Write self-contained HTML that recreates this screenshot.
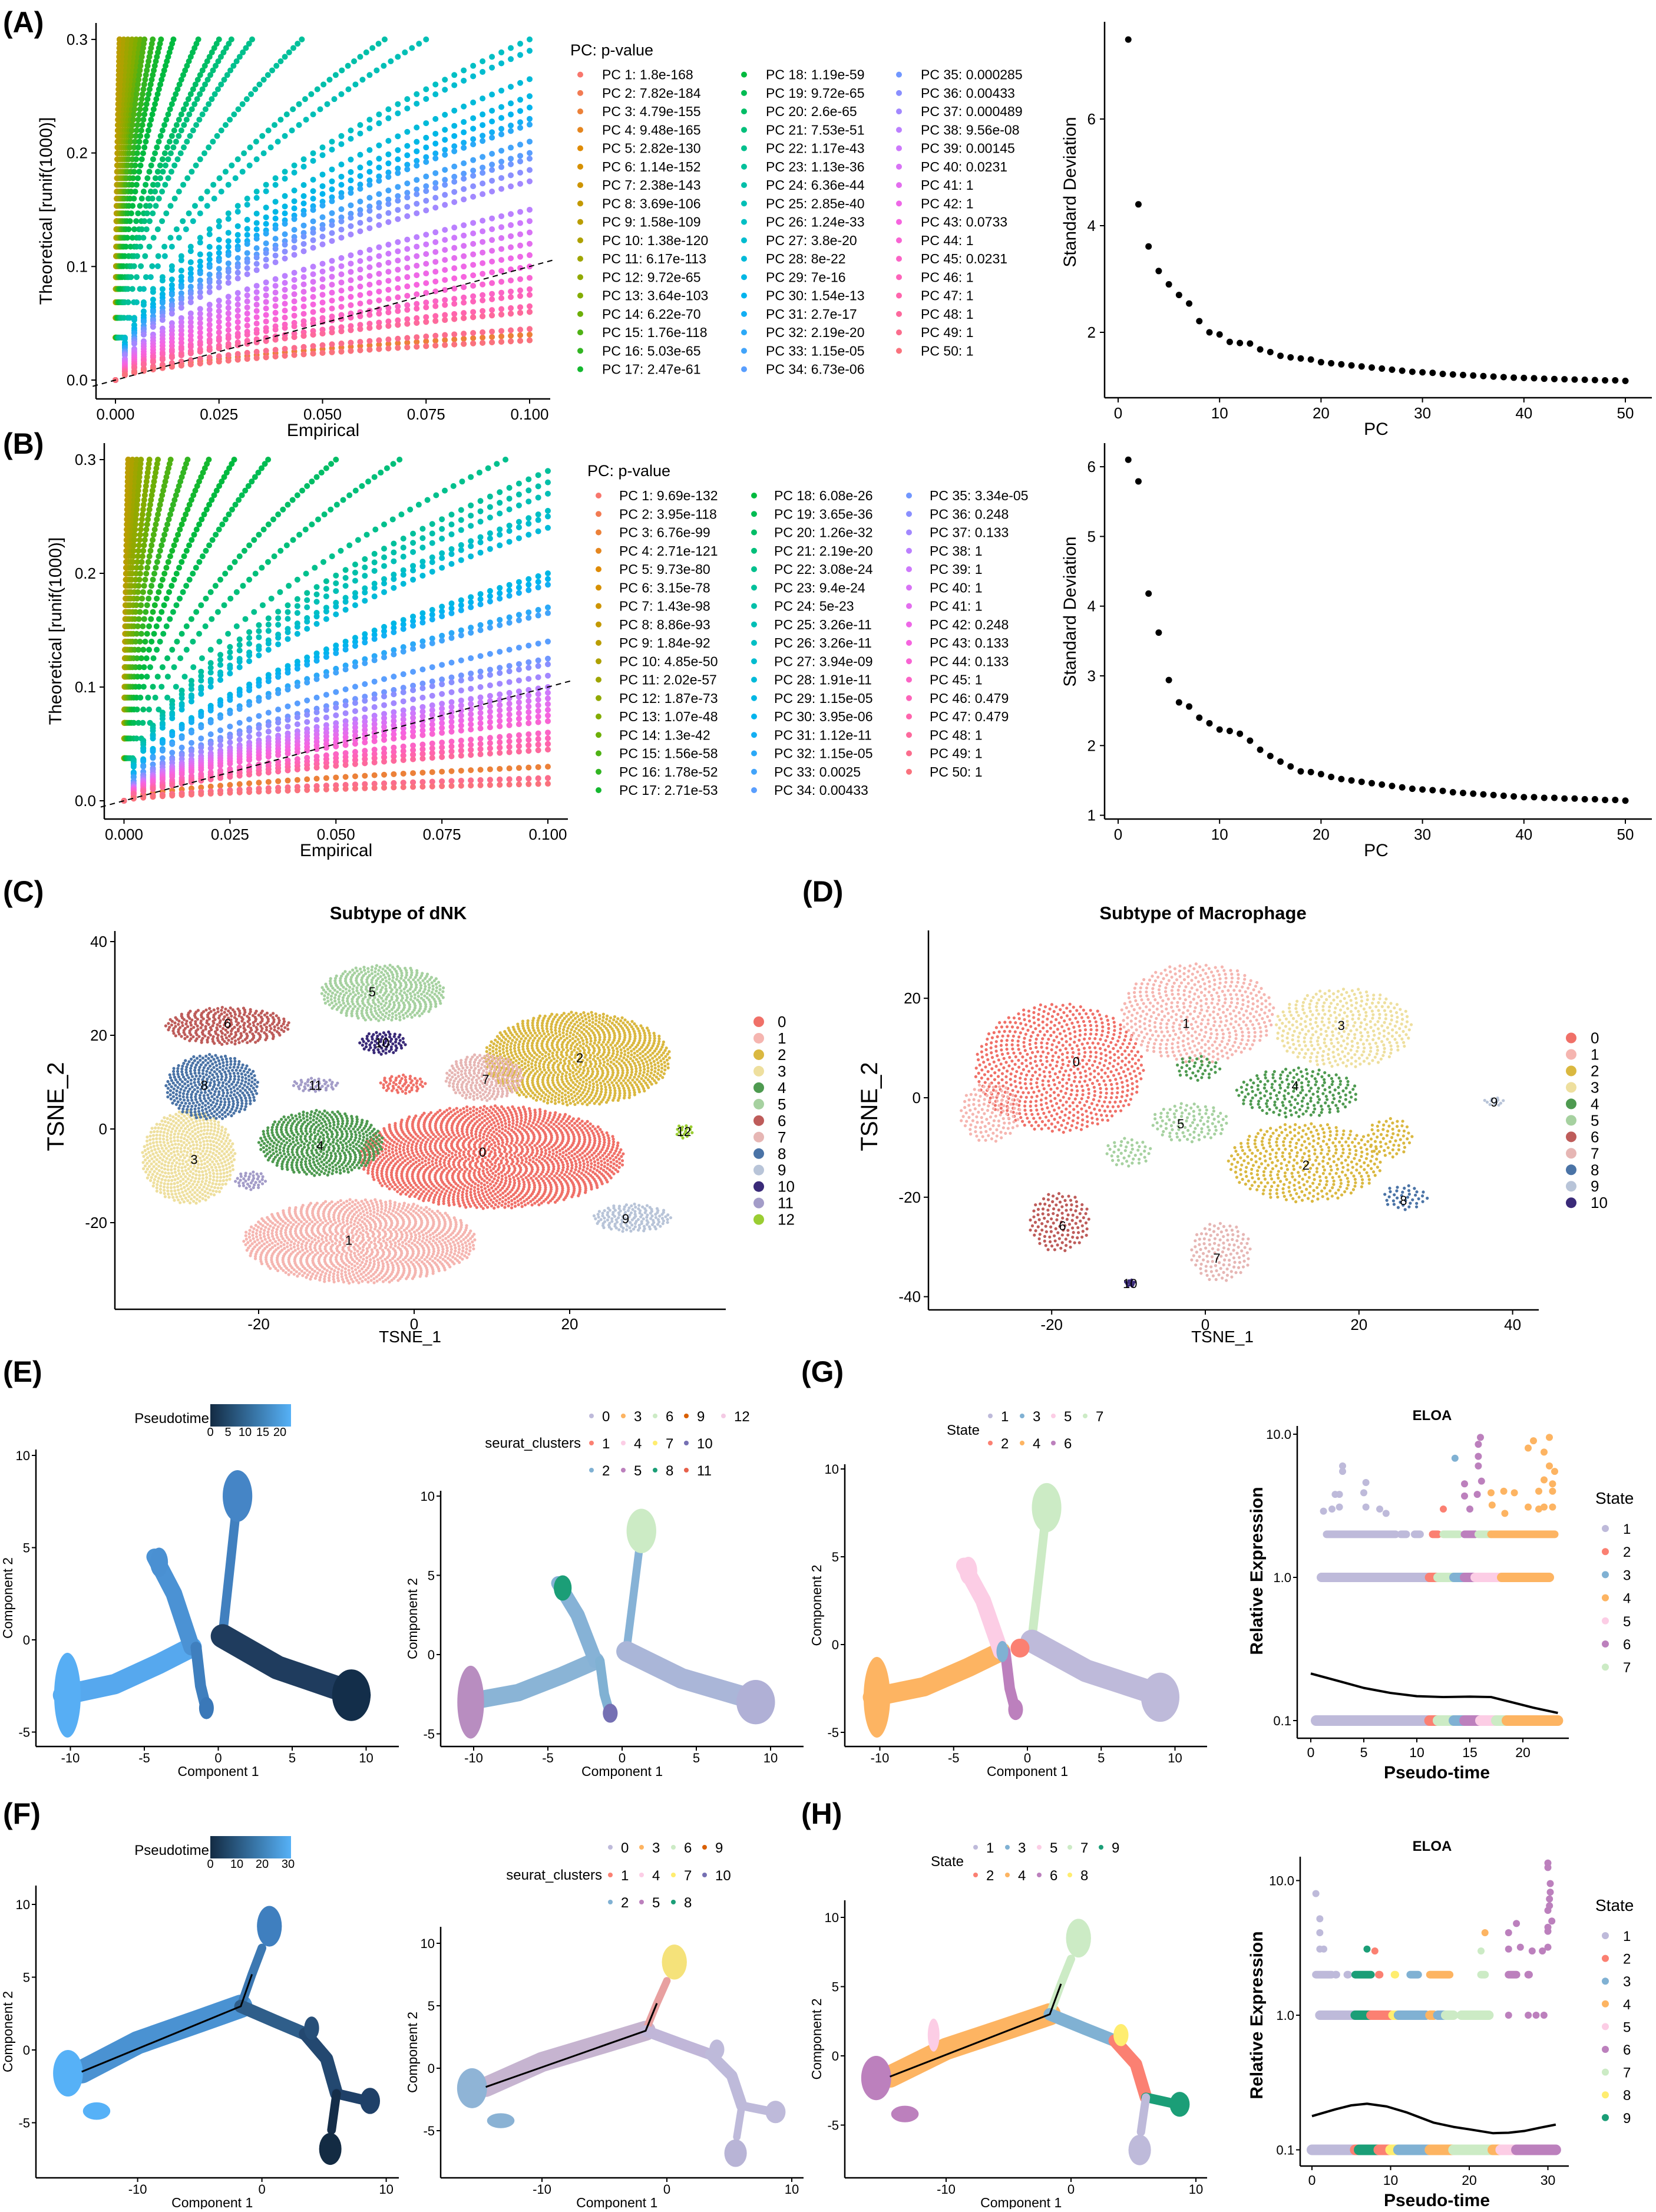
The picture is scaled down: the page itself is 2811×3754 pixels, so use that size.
<!DOCTYPE html>
<html><head><meta charset="utf-8"><style>
body{margin:0;background:#fff}
svg text{font-family:"Liberation Sans",Arial,sans-serif}
</style></head><body>
<svg id="fig" width="2811" height="3749" viewBox="0 0 2811 3749" xmlns="http://www.w3.org/2000/svg">
<defs><linearGradient id="ptg" x1="0" x2="1" y1="0" y2="0"><stop offset="0" stop-color="#132B43"/><stop offset="1" stop-color="#56B1F7"/></linearGradient></defs>
<rect x="0" y="0" width="2811" height="3749" fill="#fff"/>
</svg>
<script>
// ---------- DATA ----------
const pvalsA=['1.8e-168','7.82e-184','4.79e-155','9.48e-165','2.82e-130','1.14e-152','2.38e-143','3.69e-106','1.58e-109','1.38e-120','6.17e-113','9.72e-65','3.64e-103','6.22e-70','1.76e-118','5.03e-65','2.47e-61','1.19e-59','9.72e-65','2.6e-65','7.53e-51','1.17e-43','1.13e-36','6.36e-44','2.85e-40','1.24e-33','3.8e-20','8e-22','7e-16','1.54e-13','2.7e-17','2.19e-20','1.15e-05','6.73e-06','0.000285','0.00433','0.000489','9.56e-08','0.00145','0.0231','1','1','0.0733','1','0.0231','1','1','1','1','1'];
const pvalsB=['9.69e-132','3.95e-118','6.76e-99','2.71e-121','9.73e-80','3.15e-78','1.43e-98','8.86e-93','1.84e-92','4.85e-50','2.02e-57','1.87e-73','1.07e-48','1.3e-42','1.56e-58','1.78e-52','2.71e-53','6.08e-26','3.65e-36','1.26e-32','2.19e-20','3.08e-24','9.4e-24','5e-23','3.26e-11','3.26e-11','3.94e-09','1.91e-11','1.15e-05','3.95e-06','1.12e-11','1.15e-05','0.0025','0.00433','3.34e-05','0.248','0.133','1','1','1','1','0.248','0.133','0.133','1','0.479','0.479','1','1','1'];
const endEmpA=[0.1,0.1,0.1,0.001,0.001,0.001,0.001,0.001,0.001,0.002,0.003,0.004,0.005,0.006,0.007,0.009,0.011,0.014,0.02,0.025,0.028,0.033,0.045,0.065,0.075,0.1,0.1,0.1,0.1,0.1,0.1,0.1,0.1,0.1,0.1,0.1,0.1,0.1,0.1,0.1,0.1,0.1,0.1,0.1,0.1,0.1,0.1,0.1,0.1,0.1];
const endTheoA=[0.035,0.06,0.04,0.3,0.3,0.3,0.3,0.3,0.3,0.3,0.3,0.3,0.3,0.3,0.3,0.3,0.3,0.3,0.3,0.3,0.3,0.3,0.3,0.3,0.3,0.3,0.29,0.265,0.25,0.24,0.23,0.225,0.21,0.2,0.195,0.185,0.175,0.15,0.14,0.13,0.12,0.11,0.1,0.09,0.08,0.075,0.065,0.06,0.045,0.035];
const endEmpB=[0.1,0.1,0.1,0.001,0.001,0.001,0.001,0.001,0.001,0.002,0.003,0.004,0.006,0.008,0.011,0.015,0.02,0.026,0.034,0.05,0.065,0.09,0.1,0.1,0.1,0.1,0.1,0.1,0.1,0.1,0.1,0.1,0.1,0.1,0.1,0.1,0.1,0.1,0.1,0.1,0.1,0.1,0.1,0.1,0.1,0.1,0.1,0.1,0.1,0.1];
const endTheoB=[0.05,0.02,0.03,0.3,0.3,0.3,0.3,0.3,0.3,0.3,0.3,0.3,0.3,0.3,0.3,0.3,0.3,0.3,0.3,0.3,0.3,0.3,0.29,0.28,0.27,0.255,0.25,0.24,0.2,0.195,0.19,0.17,0.165,0.14,0.125,0.12,0.11,0.1,0.095,0.09,0.085,0.08,0.075,0.07,0.06,0.055,0.05,0.045,0.02,0.015];
const sdevA=[7.49,4.40,3.61,3.15,2.9,2.7,2.54,2.21,2.0,1.96,1.82,1.8,1.79,1.68,1.63,1.56,1.53,1.51,1.49,1.44,1.42,1.40,1.38,1.36,1.34,1.32,1.30,1.28,1.26,1.25,1.24,1.22,1.21,1.20,1.19,1.18,1.17,1.16,1.15,1.145,1.14,1.13,1.125,1.12,1.115,1.11,1.105,1.10,1.10,1.09];
const sdevB=[6.1,5.79,4.18,3.62,2.94,2.62,2.56,2.40,2.32,2.23,2.21,2.17,2.07,1.94,1.85,1.77,1.70,1.63,1.62,1.59,1.55,1.52,1.50,1.48,1.46,1.44,1.42,1.40,1.38,1.37,1.36,1.35,1.33,1.32,1.31,1.30,1.29,1.28,1.27,1.26,1.26,1.25,1.25,1.24,1.24,1.23,1.23,1.22,1.22,1.21];
// tSNE clusters [cx, cy, rx, ry, colorIndex]
const dnkClusters=[[10,-6,17,11,0],[-1.5,9.6,3,2,0],[-7,-24,15,9,1],[21,15,12,10,2],[-29,-6,6,10,3],[-12,-3,8,7,4],[-4,29,8,6,5],[-24,22,8,4,6],[9,11,5,5,7],[-26,9,6,7,8],[28,-19,5,3,9],[-4,18.4,3,2.5,10],[-12.7,9.4,3,1.5,11],[-21,-11,2,2,11],[34.7,-0.5,1.2,1.5,12]];
const dnkLabels=[[8.8,-4.9,'0'],[-8.4,-23.7,'1'],[21.3,15.2,'2'],[-28.3,-6.5,'3'],[-12.1,-3.5,'4'],[-5.4,29.3,'5'],[-24,22.6,'6'],[9.2,10.6,'7'],[-27,9.4,'8'],[27.2,-19.1,'9'],[-4.1,18.4,'10'],[-12.7,9.4,'11'],[34.7,-0.5,'12']];
const dnkColors=['#F07068','#F5B5B0','#DAB840','#EEDF9E','#4E9A50','#A6D1A0','#BE5C5A','#E6B6B4','#4A73A6','#B8C4D8','#3A2A78','#A39CC8','#9ACD32'];
const macClusters=[[-19,6,11,13,0],[-28,-3,4,6,1],[-1,17,10,10,1],[13,-13,10,8,2],[24,-8,3,4,2],[18,14,9,8,3],[12,1,8,5,4],[-1,6,3,2.5,4],[-2,-5,5,4,5],[-10,-11,3,3,5],[-19,-25,4,6,6],[2,-31,4,6,7],[26,-20,3,2.5,8],[37.6,-0.8,1.5,0.8,9],[-9.8,-37.3,0.7,0.7,10]];
const macLabels=[[-16.8,7.3,'0'],[-2.5,15,'1'],[13.1,-13.5,'2'],[17.7,14.6,'3'],[11.7,2.4,'4'],[-3.2,-5.2,'5'],[-18.6,-25.7,'6'],[1.5,-32.2,'7'],[25.8,-20.6,'8'],[37.6,-0.8,'9'],[-9.8,-37.3,'10']];
const macColors=['#F07068','#F5B5B0','#DAB840','#EEDF9E','#4E9A50','#A6D1A0','#BE5C5A','#E6B6B4','#4A73A6','#B8C4D8','#3A2A78'];
// trajectory branches (data coords): [points, width]
const trajE=[[[[-10.5,-3],[-7,-2.4],[-4,-1.3],[-1.8,-0.4]],1.1],[[[-1.8,-0.4],[-3,2.5],[-4.3,4.5]],0.9],[[[0.3,0.3],[0.8,4],[1.2,7]],0.5],[[[0.3,0.2],[4,-1.5],[8,-2.6],[9.5,-3]],1.3],[[[-1.5,-0.4],[-1.2,-2.5],[-0.8,-3.8]],0.6]];
const blobsE=[[-10.2,-3,0.9,2.3],[1.3,7.8,1.0,1.4],[9,-3,1.3,1.4],[-0.8,-3.7,0.5,0.6],[-4,4.2,0.6,0.8]];
const trajF=[[[[-14.5,-1.5],[-10,0.5],[-5,2],[-1.7,3]],1.6],[[[-1.7,3],[-0.8,5.2],[0,7]],0.6],[[[-1.7,3],[1,2],[3.5,1.1]],0.9],[[[3.5,1.1],[5.2,-0.6],[6,-3]],0.9],[[[6,-3],[8.5,-3.5]],0.7],[[[6,-3],[5.6,-5.5]],0.6]];
const blobsF=[[-15.6,-1.6,1.2,1.6],[-13.3,-4.2,1.1,0.6],[0.6,8.5,1,1.4],[4,1.5,0.6,0.8],[8.7,-3.5,0.8,0.9],[5.5,-6.8,0.9,1.1]];
const pathF=[[-14.5,-1.5],[-1.7,3],[-0.8,5.2]];
// ELOA expression bands: [t0, t1, state]
const g01=[[0.5,11.2,1],[11.2,12,2],[12,13.5,7],[13.5,14.5,3],[14.5,16,6],[16,17.5,5],[17.5,18.5,7],[18.5,23.3,4]];
const g10=[[1,11.2,1],[11.2,12,2],[12,13.5,7],[13.5,14.5,3],[14.5,15.5,6],[15.5,18,5],[18,22.5,4]];
const g20=[[1.5,8,1],[8.5,9,1],[9.8,10.3,1],[11.5,12,2],[12.5,14,7],[14.5,15.5,6],[15.8,17,7],[17,23,4]];
const gPts=[[3,6,1],[3,5.5,1],[5.2,4.6,1],[2.3,3.8,1],[2.7,3.8,1],[5,3.9,1],[1.2,2.9,1],[2,3,1],[2.7,3.1,1],[5.2,3.1,1],[6.5,3,1],[7.1,2.8,1],[13.6,6.8,3],[15.8,8.5,6],[16,9.5,6],[15.8,7,6],[15.8,6,6],[16.1,4.7,6],[14.5,4.5,6],[15.7,3.8,6],[14.5,3.7,6],[15,3,6],[12.5,3,2],[17,3.9,4],[18.2,4,4],[19.2,3.9,4],[21,9,4],[22.5,9.5,4],[20.5,8,4],[22,7.5,4],[22.5,6,4],[23,5.5,4],[22,4.8,4],[22.8,4.5,4],[21.5,4,4],[22.8,4,4],[20.5,3.1,4],[21.5,3,4],[22,3.1,4],[22.8,3.1,4],[17.1,3.2,4],[18.3,2.8,4]];
const gCurve=[[0,0.213],[2.5,0.19],[5,0.169],[7.5,0.156],[10,0.148],[12.5,0.146],[15,0.147],[17,0.146],[19,0.134],[21,0.123],[23.3,0.113]];
const h01=[[0,5.5,1],[5.5,6,2],[6,8.5,9],[8.5,10,2],[10,11,8],[11,15,3],[15,18,4],[18,19,7],[19,23,7],[23,24,4],[24,26,5],[26,31,6]];
const h10=[[1,5.5,1],[5.5,7.5,9],[7.5,10,2],[10.3,11,8],[11,14.5,3],[15,15.5,4],[16,17,3],[17,18,7],[19,22.5,7]];
const h20=[[0.5,2.5,1],[3,3.1,1],[4.5,4.6,1],[5.5,7.5,9],[8.5,8.6,2],[10.5,10.6,8],[12.5,13.5,3],[15,17.5,4],[21.5,22,7],[25,26,6],[27.5,27.6,6]];
const hPts=[[0.5,8,1],[1,5.2,1],[1,4.1,1],[1,3.1,1],[1.5,3.1,1],[7,3.1,9],[8,3.0,2],[21.5,3.0,7],[22,4.1,4],[25,4.1,6],[26,4.8,6],[25,3.1,6],[26.5,3.2,6],[28,3.0,6],[29.3,3.0,6],[30,3.2,6],[30,4.2,6],[30,4.5,6],[30.5,5,6],[30,6,6],[30.2,6.5,6],[30.2,7.3,6],[30.3,8.2,6],[30.3,9.5,6],[30,12.5,6],[30,13.5,6],[25,1,6],[27.5,1,6],[28.5,1,6],[29.5,1,6]];
const hCurve=[[0,0.178],[3,0.2],[5,0.214],[7,0.22],[9.5,0.21],[12,0.19],[15.5,0.159],[18,0.148],[20,0.142],[23,0.133],[25,0.134],[27,0.138],[29,0.146],[31,0.154]];
const stateCol=['','#BEBADA','#FB8072','#80B1D3','#FDB462','#FCCDE5','#BC80BD','#CCEBC5','#FFED6F','#1B9E77'];
const seuratCol=['#BEBADA','#FB8072','#80B1D3','#FDB462','#FCCDE5','#BC80BD','#CCEBC5','#FFED6F','#1B9E77','#D95F02','#7570B3','#E7604A','#F4CAE4'];

// ---------- HELPERS ----------
const NS='http://www.w3.org/2000/svg';
const svg=document.getElementById('fig');
function mk(tag,attrs,name,parent){
  const e=document.createElementNS(NS,tag);
  for(const k in attrs)e.setAttribute(k,attrs[k]);
  
  
  (parent||svg).appendChild(e);return e;}
function txt(x,y,s,size,name,o){o=o||{};
  const e=mk('text',{x:x,y:y,'font-size':size,'text-anchor':o.a||'start','font-weight':o.w||'normal',fill:o.f||'#000'},name);
  if(o.r)e.setAttribute('transform','rotate(-90 '+x+' '+y+')');
  e.textContent=s;return e;}
function line(x1,y1,x2,y2,name,w,col,dash){const a={x1:x1,y1:y1,x2:x2,y2:y2,stroke:col||'#000','stroke-width':w||2};if(dash)a['stroke-dasharray']=dash;return mk('line',a,name);}
const HUE12=['#F8766D','#DE8C00','#B79F00','#7CAE00','#00BA38','#00C08B','#00BFC4','#00B4F0','#619CFF','#C77CFF','#F564E3','#FF64B0'];
function hx(c){return [1,3,5].map(i=>parseInt(c.substr(i,2),16));}
function hue(i,n){const t=i/n*12,a=Math.floor(t)%12,b=(a+1)%12,f=t-Math.floor(t);const A=hx(HUE12[a]),B=hx(HUE12[b]);return 'rgb('+A.map((v,k)=>Math.round(v+(B[k]-v)*f)).join(',')+')';}
function axesL(c,name){line(c.L,c.T,c.L,c.B,name+'-y-axis',2.5);line(c.L,c.B,c.R,c.B,name+'-x-axis',2.5);}

// ---------- PANEL LABELS ----------
[['(A)',5,55],['(B)',5,770],['(C)',5,1530],['(D)',1362,1530],['(E)',5,2345],['(G)',1360,2345],['(F)',5,3095],['(H)',1360,3095]].forEach(p=>{
  txt(p[1],p[2],p[0],50,'panel-label',{w:'bold'});});

// ---------- JACKSTRAW ----------
function jack(c,eEmp,eTheo,pv,lg,tag){
  const X=v=>c.x0+v*c.xs, Y=v=>c.y0-v*c.ys;
  for(let i=0;i<50;i++){
    const col=hue(i,50);
    for(let k=0;k<=44;k++){const t=k/44;
      mk('circle',{cx:X(eEmp[i]*t),cy:Y(eTheo[i]*Math.pow(t,0.55)),r:5,fill:col},tag+'-pc-point');}
  }
  line(X(-0.0055),Y(-0.0055),X(0.1055),Y(0.1055),tag+'-diagonal',2,'#000','9,7');
  axesL(c,tag);
  [0,0.1,0.2,0.3].forEach(v=>{line(c.L-8,Y(v),c.L,Y(v),tag+'-y-tick',2);txt(c.L-14,Y(v)+9,v.toFixed(1),26,tag+'-y-tick-label',{a:'end'});});
  [0,0.025,0.05,0.075,0.1].forEach(v=>{line(X(v),c.B,X(v),c.B+8,tag+'-x-tick',2);txt(X(v),c.B+35,v.toFixed(3),26,tag+'-x-tick-label',{a:'middle'});});
  txt((c.L+c.R)/2,c.B+63,'Empirical',30,tag+'-x-axis-title',{a:'middle'});
  txt(c.tx,(c.T+c.B)/2,'Theoretical [runif(1000)]',30,tag+'-y-axis-title',{a:'middle',r:1});
  txt(lg.hx,lg.hy,'PC: p-value',27,tag+'-legend-title');
  for(let i=0;i<50;i++){const col=i<17?0:(i<34?1:2),row=i%17;
    const y=lg.y0+row*lg.dy;
    mk('circle',{cx:lg.dx[col],cy:y,r:5,fill:hue(i,50)},tag+'-legend-key');
    txt(lg.tx[col],y+8,'PC '+(i+1)+': '+pv[i],23,tag+'-legend-entry');}
}
jack({x0:196,xs:7030,y0:645,ys:1927,L:163,R:934,T:39,B:677,tx:88},endEmpA,endTheoA,pvalsA,{hx:968,hy:94,y0:126.6,dy:31.25,dx:[985,1263,1526],tx:[1022,1300,1563]},'jackstraw-a');
jack({x0:210.5,xs:7195,y0:1359,ys:1930,L:177,R:964,T:752,B:1390,tx:104},endEmpB,endTheoB,pvalsB,{hx:997,hy:808,y0:841,dy:31.25,dx:[1016,1280,1543],tx:[1051,1314,1578]},'jackstraw-b');

// ---------- ELBOW ----------
function elbow(c,vals,ticks,tag){
  const X=v=>1898+v*17.22, Y=v=>c.y0-(v-c.v0)*c.ys;
  axesL({L:1875,R:2804,T:c.T,B:c.B},tag);
  ticks.forEach(v=>{line(1867,Y(v),1875,Y(v),tag+'-y-tick',2);txt(1860,Y(v)+9,String(v),26,tag+'-y-tick-label',{a:'end'});});
  [0,10,20,30,40,50].forEach(v=>{line(X(v),c.B,X(v),c.B+8,tag+'-x-tick',2);txt(X(v),c.B+35,String(v),26,tag+'-x-tick-label',{a:'middle'});});
  txt(2336,c.B+63,'PC',30,tag+'-x-axis-title',{a:'middle'});
  txt(1826,c.mid,'Standard Deviation',30,tag+'-y-axis-title',{a:'middle',r:1});
  vals.forEach((v,i)=>{mk('circle',{cx:X(i+1),cy:Y(v),r:5.5,fill:'#000'},tag+'-point');});
}
elbow({y0:564,v0:2,ys:90.5,T:37,B:675,mid:326},sdevA,[2,4,6],'elbow-a');
elbow({y0:1383.6,v0:1,ys:118.3,T:752,B:1390,mid:1038},sdevB,[1,2,3,4,5,6],'elbow-b');

// ---------- TSNE ----------
function tsne(c,cl,labels,cols,tag,ticksX,ticksY){
  const X=v=>c.x0+v*c.xs, Y=v=>c.y0-v*c.ys;
  cl.forEach(q=>{const rx=q[2]*c.xs, ry=q[3]*c.ys, n=Math.max(12,Math.round(Math.PI*rx*ry/c.dens));
    const g=mk('g',{fill:cols[q[4]]},tag+'-cluster-'+q[4]);
    for(let k=0;k<n;k++){const r=Math.sqrt((k+0.5)/n),th=k*2.39996;
      mk('circle',{cx:X(q[0])+rx*r*Math.cos(th),cy:Y(q[1])-ry*r*Math.sin(th),r:c.pr},tag+'-cell',g);}});
  labels.forEach(l=>txt(X(l[0]),Y(l[1])+8,l[2],22,tag+'-cluster-label',{a:'middle'}));
  axesL(c,tag);
  ticksY.forEach(v=>{line(c.L-8,Y(v),c.L,Y(v),tag+'-y-tick',2);txt(c.L-13,Y(v)+9,String(v),26,tag+'-y-tick-label',{a:'end'});});
  ticksX.forEach(v=>{line(X(v),c.B,X(v),c.B+8,tag+'-x-tick',2);txt(X(v),c.B+34,String(v),26,tag+'-x-tick-label',{a:'middle'});});
  txt(c.tx1,2278,'TSNE_1',28,tag+'-x-axis-title',{a:'middle'});
  txt(c.tx2,1878,'TSNE_2',40,tag+'-y-axis-title',{a:'middle',r:1});
  txt(c.ttx,1560,c.title,31,tag+'-title',{a:'middle',w:'bold'});
  cols.forEach((col,i)=>{const y=c.ly+i*27.97;mk('circle',{cx:c.ldx,cy:y,r:9,fill:col},tag+'-legend-key');txt(c.ltx,y+9,String(i),26,tag+'-legend-label');});
}
tsne({x0:703,xs:13.2,y0:1916,ys:7.95,L:195,R:1232,T:1580,B:2222,dens:34,pr:2.6,tx1:696,tx2:108,ttx:676,title:'Subtype of dNK',ldx:1288,ltx:1320,ly:1734},dnkClusters,dnkLabels,dnkColors,'tsne-dnk',[-20,0,20],[-20,0,20,40]);
tsne({x0:2046,xs:13.04,y0:1863,ys:8.44,L:1576,R:2612,T:1579,B:2223,dens:70,pr:2.6,tx1:2075,tx2:1489,ttx:2042,title:'Subtype of Macrophage',ldx:2667,ltx:2700,ly:1761.5},macClusters,macLabels,macColors,'tsne-macrophage',[-20,0,20,40],[-40,-20,0,20]);

// ---------- TRAJECTORIES ----------
function traj(c,br,blobs,bcol,blcol,tag){
  const X=v=>c.x0+v*c.xs, Y=v=>c.y0-v*c.ys;
  br.forEach((b,i)=>{mk('polyline',{points:b[0].map(p=>X(p[0])+','+Y(p[1])).join(' '),fill:'none',stroke:bcol[i],'stroke-width':b[1]*c.ys,'stroke-linecap':'round','stroke-linejoin':'round'},tag+'-branch');});
  blobs.forEach((b,i)=>{mk('ellipse',{cx:X(b[0]),cy:Y(b[1]),rx:b[2]*c.xs,ry:b[3]*c.ys,fill:blcol[i]},tag+'-cell-cloud');});
  if(c.path)mk('polyline',{points:c.path.map(p=>X(p[0])+','+Y(p[1])).join(' '),fill:'none',stroke:'#000','stroke-width':3},tag+'-trajectory-line');
  axesL(c,tag);
  c.ty.forEach(v=>{line(c.L-7,Y(v),c.L,Y(v),tag+'-y-tick',2);txt(c.L-10,Y(v)+8,String(v),22,tag+'-y-tick-label',{a:'end'});});
  c.tx.forEach(v=>{line(X(v),c.B,X(v),c.B+7,tag+'-x-tick',2);txt(X(v),c.B+27,String(v),22,tag+'-x-tick-label',{a:'middle'});});
  txt(X(c.cx),c.B+50,'Component 1',23,tag+'-x-axis-title',{a:'middle'});
  txt(c.L-40,(c.T+c.B)/2,'Component 2',23,tag+'-y-axis-title',{a:'middle',r:1});
}
traj({x0:370.5,xs:25.1,y0:2783,ys:31.3,L:61,R:677,T:2460,B:2964,ty:[-5,0,5,10],tx:[-10,-5,0,5,10],cx:0},trajE,blobsE,['#56A8EE','#4B92D4','#4180BF','#1F3C5E','#3F7FBE'],['#57AEF4','#4585C6','#132E4A','#3A78B8','#4A90D2'],'pseudotime-e');
traj({x0:1056,xs:25.2,y0:2808,ys:26.9,L:748,R:1364,T:2530,B:2964,ty:[-5,0,5,10],tx:[-10,-5,0,5,10],cx:0},trajE,blobsE,['#8AB4D6','#86B2D6','#86B2D6','#AAB6D8','#80B1D3'],['#B88DC0','#CCEBC5','#B0B0D6','#7570B3','#1B9E77'],'clusters-e');
traj({x0:1744,xs:25.05,y0:2791,ys:29.8,L:1434,R:2049,T:2485,B:2964,ty:[-5,0,5,10],tx:[-10,-5,0,5,10],cx:0},trajE,blobsE,['#FDB462','#FCCDE5','#CCEBC5','#BEBADA','#BC80BD'],['#FDB462','#CCEBC5','#BEBADA','#BC80BD','#FCCDE5'],'state-g');
mk('ellipse',{cx:1744-1.7*25.05,cy:2791+0.4*29.8,rx:10,ry:18,fill:'#80B1D3'},'state-3-cells');
mk('ellipse',{cx:1744-0.5*25.05,cy:2791+0.2*29.8,rx:16,ry:16,fill:'#FB8072'},'state-2-cells');
traj({x0:444.6,xs:21.1,y0:3479,ys:24.7,L:61,R:677,T:3200,B:3696,ty:[-5,0,5,10],tx:[-10,0,10],cx:-4,path:pathF},trajF,blobsF,['#4A92D2','#3C78B2','#2F5E8A','#234870','#1F4068','#152D48'],['#56B1F7','#56B1F7','#3F7FBF','#274F78','#1F4068','#132B43'],'pseudotime-f');
traj({x0:1132,xs:21.2,y0:3510,ys:21.2,L:748,R:1364,T:3270,B:3696,ty:[-5,0,5,10],tx:[-10,0,10],cx:-4,path:pathF},trajF,blobsF,['#C6B4D0','#E8A0A0','#C0B6D8','#BEBADA','#BEBADA','#BEBADA'],['#8FB4D6','#8AB2D4','#F5E27A','#BEBADA','#BEBADA','#B8B4D6'],'clusters-f');
traj({x0:1818,xs:21.2,y0:3489,ys:23.5,L:1434,R:2049,T:3225,B:3696,ty:[-5,0,5,10],tx:[-10,0,10],cx:-4,path:pathF},trajF,blobsF,['#FDB462','#CCEBC5','#80B1D3','#FB8072','#1B9E77','#BEBADA'],['#BC80BD','#BC80BD','#CCEBC5','#FFED6F','#1B9E77','#BEBADA'],'state-h');
mk('ellipse',{cx:1818-11*21.2,cy:3489-1.5*23.5,rx:10,ry:28,fill:'#FCCDE5'},'state-5-cells');

// ---------- PSEUDOTIME / LEGENDS ----------
function cbar(y,labs,pos,tag){
  mk('rect',{x:357,y:y,width:137,height:38,fill:'url(#ptg)'},tag+'-colorbar');
  txt(355,y+32,'Pseudotime',24,tag+'-colorbar-title',{a:'end'});
  labs.forEach((l,i)=>txt(pos[i],y+54,String(l),20,tag+'-colorbar-label',{a:'middle'}));
}
cbar(2383,[0,5,10,15,20],[357,387,416,446,475],'pseudotime-e');
cbar(3116,[0,10,20,30],[357,402,445,489],'pseudotime-f');
function catLegend(title,tx,ty,rows,dx,cl,tag){
  txt(tx,ty,title,24,tag+'-legend-title',{a:'end'});
  rows.forEach((r)=>r.items.forEach((it,ci)=>{
    mk('circle',{cx:dx[ci],cy:r.y,r:4,fill:cl[it]},tag+'-legend-key');
    txt(dx[ci]+18,r.y+9,String(it),24,tag+'-legend-label');}));
}
catLegend('seurat_clusters',986,2457,[{y:2403,items:[0,3,6,9,12]},{y:2449,items:[1,4,7,10]},{y:2495,items:[2,5,8,11]}],[1004,1058,1112,1165,1228],seuratCol,'clusters-e');
catLegend('seurat_clusters',1022,3190,[{y:3135,items:[0,3,6,9]},{y:3182,items:[1,4,7,10]},{y:3228,items:[2,5,8]}],[1036,1089,1143,1196],seuratCol,'clusters-f');
catLegend('State',1663,2435,[{y:2403,items:[1,3,5,7]},{y:2449,items:[2,4,6]}],[1681,1735,1788,1842],stateCol,'state-g');
catLegend('State',1636,3167,[{y:3135,items:[1,3,5,7,9]},{y:3182,items:[2,4,6,8]}],[1656,1710,1764,1816,1869],stateCol,'state-h');

// ---------- ELOA ----------
function eloa(c,b01,b10,b20,pts,curve,nStates,tag){
  const X=t=>c.x0+t*c.xs, Y=v=>c.y1-Math.log10(v)*c.dec;
  [[b01,0.1,18],[b10,1,16],[b20,2,13]].forEach(b=>b[0].forEach(s=>{
    mk('line',{x1:X(s[0]),y1:Y(b[1]),x2:X(s[1]),y2:Y(b[1]),stroke:stateCol[s[2]],'stroke-width':b[2],'stroke-linecap':'round'},tag+'-expression-band');}));
  pts.forEach(p=>mk('circle',{cx:X(p[0]),cy:Y(p[1]),r:6,fill:stateCol[p[2]]},tag+'-cell-point'));
  mk('polyline',{points:curve.map(p=>X(p[0])+','+Y(p[1])).join(' '),fill:'none',stroke:'#000','stroke-width':4,'stroke-linejoin':'round'},tag+'-smooth-curve');
  axesL(c,tag);
  [[0.1,'0.1'],[1,'1.0'],[10,'10.0']].forEach(v=>{line(c.L-7,Y(v[0]),c.L,Y(v[0]),tag+'-y-tick',2);txt(c.L-10,Y(v[0])+8,v[1],22,tag+'-y-tick-label',{a:'end'});});
  c.tx.forEach(v=>{line(X(v),c.B,X(v),c.B+7,tag+'-x-tick',2);txt(X(v),c.B+32,String(v),23,tag+'-x-tick-label',{a:'middle'});});
  txt(2439,c.B+68,'Pseudo-time',30,tag+'-x-axis-title',{a:'middle',w:'bold'});
  txt(2143,c.ymid,'Relative Expression',30,tag+'-y-axis-title',{a:'middle',w:'bold',r:1});
  txt(2431,c.T-10,'ELOA',24,tag+'-title',{a:'middle',w:'bold'});
  txt(2708,c.sy,'State',28,tag+'-legend-title');
  for(let s=1;s<=nStates;s++){const y=c.sy+42+(s-1)*c.sdy;
    mk('circle',{cx:2725,cy:y,r:6,fill:stateCol[s]},tag+'-legend-key');
    txt(2755,y+9,String(s),24,tag+'-legend-label');}
}
eloa({x0:2225,xs:18,y1:2677,dec:243,L:2202,R:2663,T:2420,B:2950,tx:[0,5,10,15,20],ymid:2666,sy:2552,sdy:39.2},g01,g10,g20,gPts,gCurve,7,'eloa-g');
eloa({x0:2227,xs:13.35,y1:3420,dec:228.5,L:2207,R:2663,T:3151,B:3676,tx:[0,10,20,30],ymid:3420,sy:3243,sdy:38.6},h01,h10,h20,hPts,hCurve,9,'eloa-h');
</script>
</body></html>
